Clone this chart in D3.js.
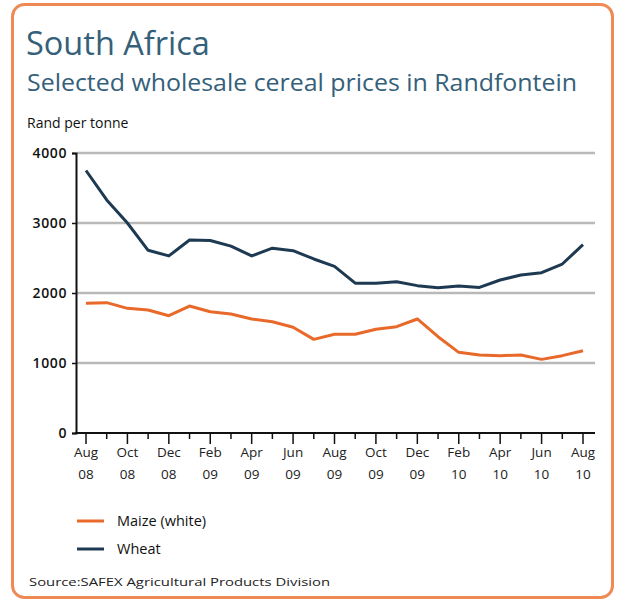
<!DOCTYPE html>
<html>
<head>
<meta charset="utf-8">
<script src="https://cdn.jsdelivr.net/npm/d3@7"></script>
<style>
  html, body { margin: 0; padding: 0; background: #ffffff; }
  svg { display: block; }
  text { font-family: "Open Sans", "Noto Sans", sans-serif; }
</style>
</head>
<body>
<svg id="chart" width="617" height="604"></svg>
<script>
// Monthly observations, Aug 2008 – Aug 2010 (index 0 = Aug 08)
const months = d3.range(25);
const wheat = [3750, 3330, 3000, 2610, 2530, 2757, 2750, 2670, 2530, 2640, 2605, 2486, 2380,
               2140, 2140, 2162, 2105, 2076, 2100, 2080, 2186, 2257, 2290, 2414, 2690];
const maize = [1852, 1862, 1781, 1757, 1676, 1814, 1733, 1700, 1629, 1590, 1510, 1338, 1410,
               1410, 1481, 1519, 1629, 1376, 1152, 1114, 1105, 1114, 1052, 1105, 1176];
const tickMonths = ["Aug", "Oct", "Dec", "Feb", "Apr", "Jun", "Aug", "Oct", "Dec", "Feb", "Apr", "Jun", "Aug"];
const tickYears  = ["08", "08", "08", "09", "09", "09", "09", "09", "09", "10", "10", "10", "10"];
const yTicks = [0, 1000, 2000, 3000, 4000];

const seriesList = [
  { name: "Maize (white)", values: maize, color: "#e8692a" },
  { name: "Wheat", values: wheat, color: "#1e3a52" }
];

const svg = d3.select("#chart");

// Rounded orange frame
svg.append("rect")
  .attr("x", 12.5).attr("y", 4.5).attr("width", 600).attr("height", 593)
  .attr("rx", 12).attr("ry", 12)
  .attr("fill", "#ffffff").attr("stroke", "#ef8a55").attr("stroke-width", 3);

// Titles
svg.append("text").attr("x", 26).attr("y", 55)
  .attr("font-size", 32.5).attr("fill", "#35607a").text("South Africa");
svg.append("text").attr("x", 27).attr("y", 91)
  .attr("font-size", 23).attr("fill", "#35607a")
  .attr("textLength", 550).attr("lengthAdjust", "spacingAndGlyphs")
  .text("Selected wholesale cereal prices in Randfontein");
svg.append("text").attr("x", 27).attr("y", 128)
  .attr("font-size", 14).attr("fill", "#111").text("Rand per tonne");

const x = d3.scaleLinear().domain([0, 24]).range([86, 583]);
const y = d3.scaleLinear().domain([0, 4000]).range([433, 153]);

// Horizontal gridlines
svg.append("g")
  .selectAll("line")
  .data(yTicks.filter(v => v > 0))
  .join("line")
  .attr("x1", 77).attr("x2", 595)
  .attr("y1", d => y(d)).attr("y2", d => y(d))
  .attr("stroke", "#b9b9b9").attr("stroke-width", 2.5);

// Y axis
const yAxis = d3.axisLeft(y).tickValues(yTicks).tickFormat(d3.format("d")).tickSize(4).tickPadding(5);
const gy = svg.append("g").attr("transform", "translate(76,0)").call(yAxis);
gy.select(".domain").attr("stroke", "#111").attr("stroke-width", 2);
gy.selectAll(".tick line").attr("stroke", "#111").attr("stroke-width", 1.5);
gy.selectAll(".tick text").attr("font-size", 14).attr("fill", "#111")
  .attr("font-weight", 600).attr("letter-spacing", 0.6)
  .attr("font-family", "'Open Sans', sans-serif");

// X axis: minor monthly ticks, major ticks every two months
const gx = svg.append("g").attr("transform", "translate(0,433)");
gx.append("line").attr("x1", 75).attr("x2", 595).attr("y1", 0).attr("y2", 0)
  .attr("stroke", "#111").attr("stroke-width", 2);
gx.selectAll("line.tk")
  .data(months)
  .join("line").attr("class", "tk")
  .attr("x1", d => x(d)).attr("x2", d => x(d))
  .attr("y1", 0).attr("y2", d => d % 2 === 0 ? 11 : 6)
  .attr("stroke", "#111").attr("stroke-width", 1.5);

const labels = gx.selectAll("g.lbl")
  .data(tickMonths.map((m, i) => ({ m, yr: tickYears[i], i: i * 2 })))
  .join("g").attr("class", "lbl")
  .attr("transform", d => `translate(${x(d.i)},0)`);
labels.append("text").attr("y", 24).attr("text-anchor", "middle")
  .attr("font-size", 13.5).attr("fill", "#222").text(d => d.m);
labels.append("text").attr("y", 46).attr("text-anchor", "middle")
  .attr("font-size", 13.5).attr("fill", "#222").text(d => d.yr);

// Lines
const line = d3.line().x((d, i) => x(i)).y(d => y(d));
svg.append("g")
  .selectAll("path")
  .data(seriesList)
  .join("path")
  .attr("d", d => line(d.values))
  .attr("fill", "none")
  .attr("stroke", d => d.color)
  .attr("stroke-width", 3)
  .attr("stroke-linejoin", "round");

// Legend
const legend = svg.append("g")
  .selectAll("g")
  .data(seriesList)
  .join("g")
  .attr("transform", (d, i) => `translate(77,${521 + i * 28})`);
legend.append("line").attr("x1", 0).attr("x2", 27).attr("y1", 0).attr("y2", 0)
  .attr("stroke", d => d.color).attr("stroke-width", 3);
legend.append("text").attr("x", 40).attr("y", 5)
  .attr("font-size", 14.5).attr("fill", "#111").text(d => d.name);

// Source note
svg.append("text").attr("x", 29).attr("y", 586)
  .attr("font-size", 11.5).attr("fill", "#222")
  .attr("textLength", 301).attr("lengthAdjust", "spacingAndGlyphs")
  .text("Source:SAFEX Agricultural Products Division");
</script>
</body>
</html>
